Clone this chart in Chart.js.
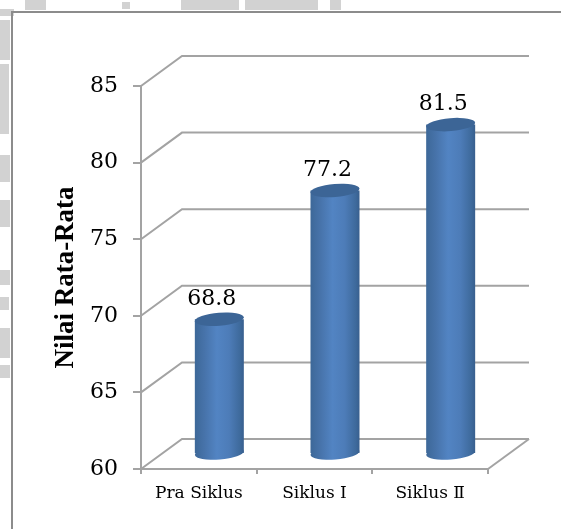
<!DOCTYPE html>
<html>
<head>
<meta charset="utf-8">
<title>Nilai Rata-Rata</title>
<script src="https://cdn.jsdelivr.net/npm/chart.js@4"></script>
<style>
  html, body { margin: 0; padding: 0; background: #fff; }
  #page { position: relative; width: 561px; height: 529px; overflow: hidden; }
  #frame { position: absolute; left: 11px; top: 11px; width: 560px; height: 540px; border: 2px solid #8c8c8c; box-sizing: border-box; }
  #page canvas { position: absolute; left: 0; top: 0; }
  .smudge { position: absolute; background: #d2d2d2; }
</style>
</head>
<body>
<div id="page">
  <!-- faint marks around the border -->
  <div class="smudge" style="left:25px;top:0;width:21px;height:10px"></div>
  <div class="smudge" style="left:122px;top:2px;width:8px;height:7px"></div>
  <div class="smudge" style="left:181px;top:0;width:58px;height:10px"></div>
  <div class="smudge" style="left:245px;top:0;width:73px;height:10px"></div>
  <div class="smudge" style="left:330px;top:0;width:11px;height:10px"></div>
  <div class="smudge" style="left:0;top:9px;width:14px;height:7px"></div>
  <div class="smudge" style="left:0;top:20px;width:10px;height:40px"></div>
  <div class="smudge" style="left:0;top:64px;width:9px;height:70px"></div>
  <div class="smudge" style="left:0;top:155px;width:10px;height:27px"></div>
  <div class="smudge" style="left:0;top:200px;width:10px;height:27px"></div>
  <div class="smudge" style="left:0;top:270px;width:10px;height:15px"></div>
  <div class="smudge" style="left:0;top:297px;width:9px;height:13px"></div>
  <div class="smudge" style="left:0;top:328px;width:10px;height:30px"></div>
  <div class="smudge" style="left:0;top:365px;width:10px;height:13px"></div>
  <div id="frame"></div>
  <canvas id="myChart" width="561" height="529"></canvas>
</div>
<script>
const categories = ['Pra Siklus', 'Siklus I', 'Siklus \u2161'];
const values = [68.8, 77.2, 81.5];
const yTicks = [60, 65, 70, 75, 80, 85];

const gridColor = '#a3a3a3';
const depthX = 41;
const depthY = 30;
const serif = '"Liberation Serif", serif';
const wideSerif = '"DejaVu Serif", serif';

// horizontal shading that makes a flat bar read as a cylinder
function cylinderFill(context) {
    const chart = context.chart;
    const scale = chart.scales.x;
    if (!scale || context.dataIndex === undefined) return '#4f81bd';
    const cx = scale.getPixelForValue(context.dataIndex);
    const half = scale.width / categories.length * 0.4236 / 2;
    if (!Number.isFinite(cx) || !Number.isFinite(half)) return '#4f81bd';
    const g = chart.ctx.createLinearGradient(cx - half, 0, cx + half, 0);
    g.addColorStop(0, '#3d6898');
    g.addColorStop(0.2, '#4773aa');
    g.addColorStop(0.45, '#5284c3');
    g.addColorStop(0.7, '#4d7cb8');
    g.addColorStop(0.92, '#3e6a9c');
    g.addColorStop(1, '#385f8e');
    return g;
}

function cylinderCap(ctx, bar, y, fill) {
    ctx.beginPath();
    ctx.ellipse(bar.x, y, bar.width / 2, 6.5, -0.08, 0, Math.PI * 2);
    ctx.fillStyle = fill;
    ctx.fill();
}

// back wall, side lines and floor, set back from the front axes
const wallPlugin = {
    id: 'wall',
    beforeDatasetsDraw(chart) {
        const ctx = chart.ctx;
        const y = chart.scales.y;
        const area = chart.chartArea;
        ctx.save();
        ctx.strokeStyle = gridColor;
        ctx.lineWidth = 2;
        yTicks.forEach(v => {
            const py = y.getPixelForValue(v);
            ctx.beginPath();
            ctx.moveTo(area.left, py);
            ctx.lineTo(area.left + depthX, py - depthY);
            ctx.lineTo(area.right + depthX, py - depthY);
            ctx.stroke();
        });
        ctx.beginPath();
        ctx.moveTo(area.right, area.bottom);
        ctx.lineTo(area.right + depthX, area.bottom - depthY);
        ctx.stroke();
        ctx.restore();
    }
};

// pushes the bars halfway into the depth and adds their round ends and labels
const cylinderPlugin = {
    id: 'cylinder',
    beforeDatasetsDraw(chart) {
        const ctx = chart.ctx;
        ctx.save();
        ctx.translate(depthX / 2, -depthY / 2);
        chart.getDatasetMeta(0).data.forEach(bar => {
            cylinderCap(ctx, bar, bar.base, bar.options.backgroundColor);
        });
    },
    afterDatasetsDraw(chart) {
        const ctx = chart.ctx;
        chart.getDatasetMeta(0).data.forEach(bar => {
            cylinderCap(ctx, bar, bar.y, '#3c6596');
        });
        ctx.fillStyle = '#000';
        ctx.font = '22px ' + wideSerif;
        ctx.textAlign = 'center';
        ctx.textBaseline = 'middle';
        chart.getDatasetMeta(0).data.forEach((bar, i) => {
            ctx.fillText(values[i].toFixed(1), bar.x - 7.5, bar.y - 20);
        });
        ctx.restore();
    }
};

new Chart(document.getElementById('myChart').getContext('2d'), {
    type: 'bar',
    data: {
        labels: categories,
        datasets: [{
            data: values,
            base: 60,
            backgroundColor: cylinderFill,
            barPercentage: 0.4236,
            categoryPercentage: 1,
            clip: false
        }]
    },
    plugins: [wallPlugin, cylinderPlugin],
    options: {
        responsive: false,
        animation: false,
        layout: { padding: { top: 86, right: 73, left: 0, bottom: 0 } },
        plugins: { legend: { display: false }, tooltip: { enabled: false } },
        scales: {
            x: {
                afterFit: scale => { scale.height = 60; },
                border: { color: gridColor, width: 2 },
                grid: { drawOnChartArea: false, color: gridColor, lineWidth: 2, tickLength: 5 },
                ticks: { color: '#000', padding: 9, maxRotation: 0, font: { family: wideSerif, size: 17 } }
            },
            y: {
                min: 60,
                max: 85,
                afterFit: scale => { scale.width = 141; },
                afterBuildTicks: scale => { scale.ticks = yTicks.map(value => ({ value })); },
                border: { color: gridColor, width: 2 },
                grid: { drawOnChartArea: false, color: gridColor, lineWidth: 2, tickLength: 8 },
                ticks: { color: '#000', padding: 15, font: { family: wideSerif, size: 22 } },
                title: {
                    display: true,
                    text: 'Nilai Rata-Rata',
                    color: '#000',
                    padding: { top: 50, bottom: 0 },
                    font: { family: serif, size: 27, weight: 'bold' }
                }
            }
        }
    }
});
</script>
</body>
</html>
